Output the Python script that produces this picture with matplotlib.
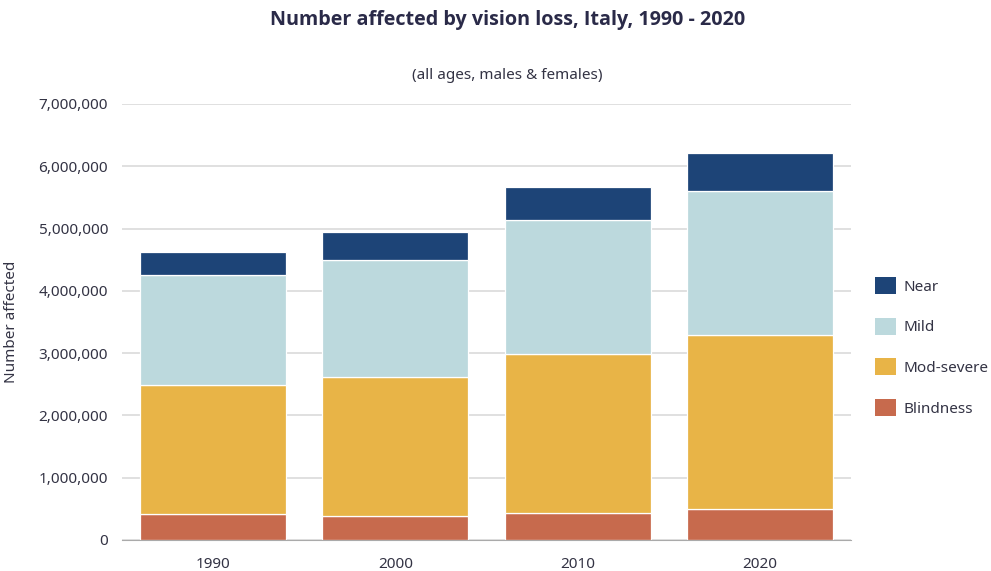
import numpy as np
import matplotlib.pyplot as plt
from matplotlib.patches import Patch
from matplotlib.ticker import FuncFormatter

plt.rcParams['font.family'] = ['Noto Sans', 'DejaVu Sans']

years = ['1990', '2000', '2010', '2020']
blindness = [417000, 385000, 430000, 490000]
mod_severe = [2073000, 2225000, 2550000, 2800000]
mild = [1760000, 1880000, 2150000, 2320000]
near = [380000, 450000, 530000, 610000]

series = [('Blindness', blindness, '#c76a4d'),
          ('Mod-severe', mod_severe, '#e8b447'),
          ('Mild', mild, '#bcd9dd'),
          ('Near', near, '#1d4477')]

fig = plt.figure(figsize=(9.91, 5.71), dpi=100)
ax = fig.add_axes([0.123, 0.0543, 0.736, 0.7637])

x = np.arange(len(years))
bottom = np.zeros(len(years))
for name, vals, col in series:
    ax.bar(x, vals, 0.8, bottom=bottom, color=col, edgecolor='white', linewidth=0.9, zorder=3)
    bottom += np.array(vals)

ax.set_xlim(-0.5, 3.5)
ax.set_ylim(0, 7000000)
ax.set_yticks(np.arange(0, 7000001, 1000000))
ax.yaxis.set_major_formatter(FuncFormatter(lambda v, p: f'{int(v):,}'))
ax.set_xticks(x)
ax.set_xticklabels(years)
ax.tick_params(axis='both', length=0, labelsize=11, colors='#333344')
ax.tick_params(axis='x', pad=12)
ax.tick_params(axis='y', pad=10)
ax.grid(axis='y', color='#dddddd', linewidth=1.3, zorder=0)
for s in ['top', 'right', 'left']:
    ax.spines[s].set_visible(False)
ax.spines['bottom'].set_color('#aaaaaa')
ax.spines['bottom'].set_zorder(4)

ax.set_ylabel('Number affected', fontsize=11, color='#333344', labelpad=14)

fig.text(0.512, 0.965, 'Number affected by vision loss, Italy, 1990 - 2020',
         ha='center', va='center', fontsize=14.2, fontweight='bold', color='#2a2a48',
         family=['Open Sans', 'DejaVu Sans'])
fig.text(0.512, 0.867, '(all ages, males & females)',
         ha='center', va='center', fontsize=11, color='#333344')

handles = [Patch(facecolor=col, edgecolor='none', label=name) for name, vals, col in series[::-1]]
leg = ax.legend(handles=handles, loc='center left', bbox_to_anchor=(1.014, 0.443), frameon=False,
                fontsize=11, handlelength=1.35, handleheight=1.35, labelspacing=1.5,
                handletextpad=0.5, labelcolor='#333344')

fig.savefig('out.png', dpi=100)
